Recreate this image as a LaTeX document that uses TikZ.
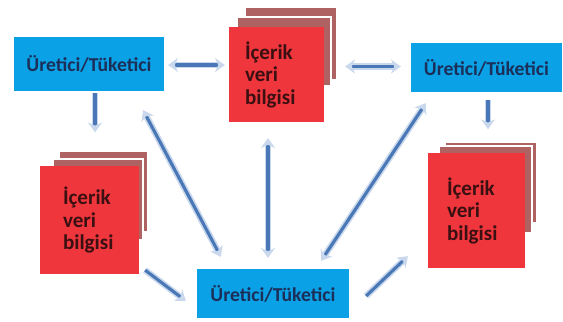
\documentclass[tikz,border=0pt]{standalone}
\usepackage{fontspec}
\setmainfont{Carlito}
\usepackage{xcolor}
\usetikzlibrary{arrows.meta,calc}
\definecolor{boxblue}{HTML}{0BA1E6}
\definecolor{boxtext}{HTML}{1B2F58}
\definecolor{infored}{HTML}{EF363C}
\definecolor{infotext}{HTML}{3A1012}
\definecolor{pagebrown}{HTML}{AE6262}
\definecolor{flowblue}{HTML}{4A78B6}
\definecolor{paleblue}{HTML}{C9D8EC}

\begin{document}
\begin{tikzpicture}[x=0.05cm,y=-0.05cm,>={Stealth[length=14pt,width=20pt]},
                        actor/.style={rectangle, fill=boxblue, text=boxtext, inner sep=0pt, font=\bfseries\fontsize{28}{30}\selectfont},
                        info/.style={rectangle, fill=infored, text=infotext, inner ysep=0pt, align=left, font=\bfseries\fontsize{30}{32}\selectfont},
                        page/.style={rectangle, fill=pagebrown, draw=white, line width=2pt},
                        flow/.style={draw=paleblue, double=flowblue, line width=2.4pt, double distance=4.4pt},]
                        \useasboundingbox (0,0) rectangle (563,322);

                        \node [actor, minimum width=7.5cm, minimum height=2.7cm](1) at (89,64) {Üretici/Tüketici};
                        \node [actor, minimum width=7.55cm, minimum height=2.45cm](2) at (486.5,67.5) {Üretici/Tüketici};
                        \node [actor, minimum width=7.6cm, minimum height=2.45cm](3) at (273,293.5) {Üretici/Tüketici};

                        \node [page, minimum width=4.6cm, minimum height=3.65cm](4b) at (291,43.5) {};
                        \node [page, minimum width=4.7cm, minimum height=3.45cm](4a) at (284,51.5) {};
                        \node [info, inner xsep=0.8cm, text width=3.15cm, minimum height=4.75cm](4) at (276.5,74.5) {İçerik\\veri\\bilgisi};

                        \node [page, minimum width=4.45cm, minimum height=4.05cm](5b) at (103.5,191.5) {};
                        \node [page, minimum width=4.5cm, minimum height=4.05cm](5a) at (98,199.5) {};
                        \node [info, inner xsep=1.15cm, text width=2.65cm, minimum height=5.4cm](5) at (89.5,220) {İçerik\\veri\\bilgisi};

                        \node [page, minimum width=4.6cm, minimum height=4.05cm](6b) at (491,182.5) {};
                        \node [page, minimum width=4.65cm, minimum height=4.35cm](6a) at (485.5,189.5) {};
                        \node [info, inner xsep=0.95cm, text width=2.95cm, minimum height=5.75cm](6) at (476.5,210.5) {İçerik\\veri\\bilgisi};

                        \path[every edge/.append style={flow}]
                            ($(1.east)+(4,1)$) edge[<->] ($(1.east -| 4.west)+(-4,1)$)
                            ($(2.west -| 4.east)+(21,-1)$) edge[<->] ($(2.west)+(-10,-1)$)
                            ($(1.south)+(6,2)$) edge[->] ($(1.south |- 5b.north)+(6,-18)$)
                            ($(2.south)+(1.5,8)$) edge[->] ($(2.south |- 6b.north)+(1.5,-12)$)

                            ($(1.south east)+(-21,19)$) edge[<->] ($(3.north west)+(24,-12)$)
                            ($(4.south)+(-8.5,16)$) edge[<->] ($(3.north)+(-5,-11)$)
                            ($(2.south west)+(15,11)$) edge[<->] ($(3.north east)+(-28,-8)$)

                            ($(5.south east)+(6,-4)$) edge[->] ($(3.west)+(-11,7.5)$)
                            ($(3.east)+(17,2.5)$) edge[->] ($(6.south west)+(-20,-12)$)
                        ;

                    \end{tikzpicture}
\end{document}
